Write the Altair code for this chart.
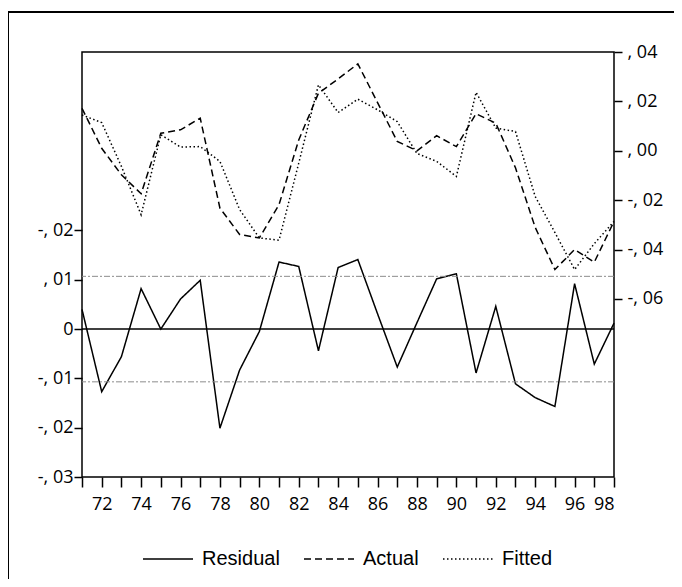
import altair as alt
import pandas as pd

years = list(range(1971, 1999))
residual = [0.0040, -0.0127, -0.0056, 0.0082, 0.0000, 0.0061, 0.0099, -0.0201, -0.0083, -0.0005,
            0.0136, 0.0127, -0.0044, 0.0125, 0.0141, 0.0031, -0.0077, 0.0013, 0.0102, 0.0112,
            -0.0089, 0.0046, -0.0111, -0.0139, -0.0157, 0.0092, -0.0071, 0.0012]
actual = [0.0172, 0.0010, -0.0097, -0.0174, 0.0071, 0.0085, 0.0132, -0.0232, -0.0339, -0.0353,
          -0.0218, 0.0044, 0.0233, 0.0291, 0.0352, 0.0195, 0.0038, 0.0000, 0.0061, 0.0017,
          0.0150, 0.0112, -0.0069, -0.0310, -0.0481, -0.0400, -0.0451, -0.0286]
fitted = [0.0145, 0.0114, -0.0063, -0.0259, 0.0065, 0.0015, 0.0017, -0.0043, -0.0238, -0.0353,
          -0.0362, -0.0050, 0.0267, 0.0155, 0.0209, 0.0166, 0.0118, -0.0011, -0.0043, -0.0104,
          0.0237, 0.0092, 0.0078, -0.0185, -0.0331, -0.0481, -0.0376, -0.0286]
resid_se = 0.0107

left_ticks = [-0.03, -0.02, -0.01, 0.0, 0.01, 0.02]
left_labels = ["-, 03", "-, 02", "-, 01", "0", ", 01", "-, 02"]
right_ticks = [-0.06, -0.04, -0.02, 0.0, 0.02, 0.04]
right_labels = ["-, 06", "-, 04", "-, 02", ", 00", ", 02", ", 04"]
series_names = ["Residual", "Actual", "Fitted"]

def label_expr(ticks, labels):
    expr = "''"
    for t, l in zip(reversed(ticks), reversed(labels)):
        expr = f"abs(datum.value - ({t})) < 0.001 ? '{l}' : ({expr})"
    return expr

res_df = pd.DataFrame({"year": years, "value": residual, "series": "Residual"})
af_df = pd.concat([
    pd.DataFrame({"year": years, "value": actual, "series": "Actual"}),
    pd.DataFrame({"year": years, "value": fitted, "series": "Fitted"}),
])

AXIS_FONT = "Open Sans"
dash_scale = alt.Scale(domain=series_names, range=[[1, 0], [7, 4], [1.5, 2.5]])
legend = alt.Legend(title=None, orient="none", legendX=60, legendY=481, direction="horizontal",
                    symbolType="stroke", symbolSize=2500, symbolStrokeWidth=1.5,
                    symbolStrokeColor="black", labelFont="Liberation Sans", labelFontSize=20,
                    labelColor="black", labelOffset=8, columnPadding=21, padding=0)

x_enc = alt.X("year:Q", scale=alt.Scale(domain=[1971, 1998], nice=False),
              axis=alt.Axis(title=None, values=years, tickSize=10, tickWidth=1.5,
                            tickColor="black", domain=False, grid=False,
                            labelExpr="datum.value % 2 == 0 ? format(datum.value % 100, 'd') : ''",
                            labelFont=AXIS_FONT, labelFontSize=18, labelColor="black",
                            labelPadding=8))

left_scale = alt.Scale(domain=[-0.03, 0.0562], nice=False, zero=False)
right_scale = alt.Scale(domain=[-0.1321, 0.04], nice=False, zero=False)

resid_line = alt.Chart(res_df).mark_line(color="black", strokeWidth=1.5).encode(
    x=x_enc,
    y=alt.Y("value:Q", scale=left_scale,
            axis=alt.Axis(title=None, orient="left", values=left_ticks,
                          labelExpr=label_expr(left_ticks, left_labels), tickSize=8,
                          tickWidth=1.5, tickColor="black", domain=False, grid=False,
                          labelFont=AXIS_FONT, labelFontSize=18, labelColor="black",
                          labelPadding=1)),
    strokeDash=alt.StrokeDash("series:N", scale=dash_scale, legend=legend),
)

band_df = pd.DataFrame({"v": [resid_se, -resid_se]})
bands = alt.Chart(band_df).mark_rule(color="#8c8c8c", strokeWidth=1, strokeDash=[6, 2, 2, 2]).encode(
    y=alt.Y("v:Q", scale=left_scale)
)
zero_df = pd.DataFrame({"v": [0.0]})
zero_rule = alt.Chart(zero_df).mark_rule(color="black", strokeWidth=1.5).encode(
    y=alt.Y("v:Q", scale=left_scale)
)

left_layer = alt.layer(resid_line, bands, zero_rule)

af_lines = alt.Chart(af_df).mark_line(color="black", strokeWidth=1.5).encode(
    x=x_enc,
    y=alt.Y("value:Q", scale=right_scale,
            axis=alt.Axis(title=None, orient="right", values=right_ticks,
                          labelExpr=label_expr(right_ticks, right_labels), tickSize=8,
                          tickWidth=1.5, tickColor="black", domain=False, grid=False,
                          labelFont=AXIS_FONT, labelFontSize=18, labelColor="black",
                          labelPadding=5)),
    strokeDash=alt.StrokeDash("series:N", scale=dash_scale, legend=legend),
    detail="series:N",
)

one = pd.DataFrame({"a": [0]})
frame_top = alt.Chart(one).mark_rule(color="black", strokeWidth=2).encode(
    x=alt.value(-74), x2=alt.value(700), y=alt.value(-40))
frame_left = alt.Chart(one).mark_rule(color="black", strokeWidth=2).encode(
    x=alt.value(-74), y=alt.value(-40), y2=alt.value(700))

chart = alt.layer(left_layer, af_lines, frame_top, frame_left).resolve_scale(y="independent").properties(
    width=532, height=425,
    autosize=alt.AutoSizeParams(type="none"),
    padding={"left": 74, "top": 44, "right": 60, "bottom": 102},
).configure_view(stroke="black", strokeWidth=1.5)

chart.save("out.html", embed_options={"renderer": "svg", "actions": False})
